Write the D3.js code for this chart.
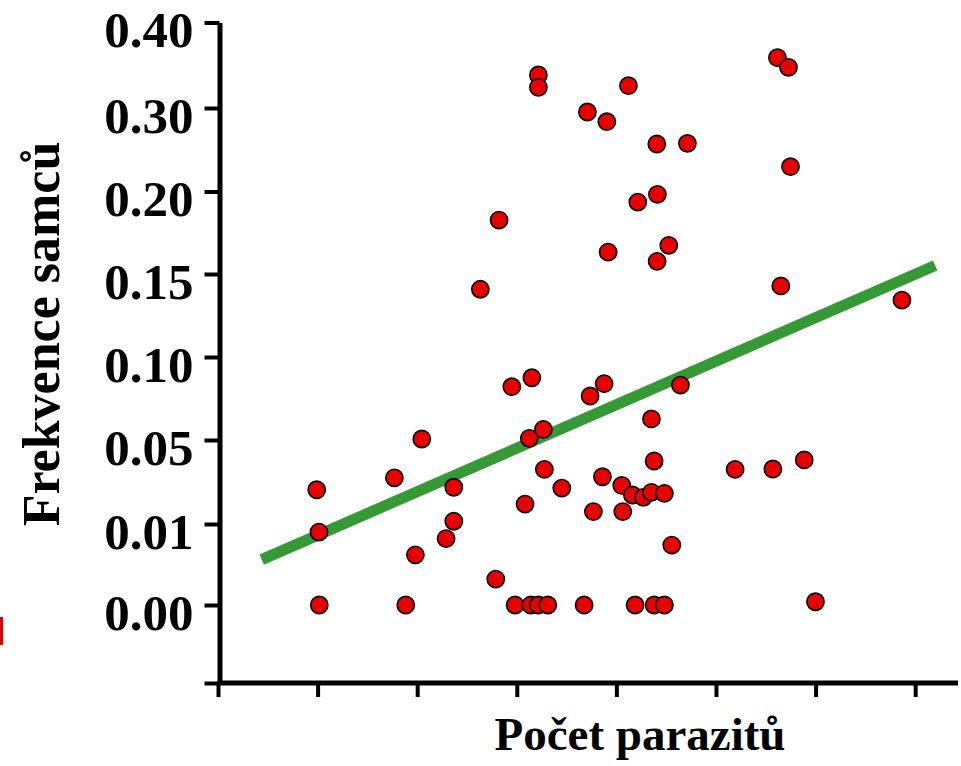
<!DOCTYPE html>
<html>
<head>
<meta charset="utf-8">
<script src="https://cdn.jsdelivr.net/npm/d3@7"></script>
<style>
  html, body { margin: 0; padding: 0; background: #fff; }
  svg { display: block; }
  text { font-family: "Liberation Serif", "Times New Roman", serif; font-weight: bold; fill: #000; }
</style>
</head>
<body>
<svg id="chart" width="961" height="766"></svg>
<script>
// ---- data ----
const parasites = [9.91,10.14,10.17,17.71,18.85,19.82,20.46,22.90,23.67,23.67,26.34,27.89,28.22,29.50,29.83,30.83,31.26,31.51,31.41,32.17,32.17,32.17,32.67,32.77,33.11,34.52,36.76,37.09,37.36,37.69,38.60,38.77,39.04,39.17,40.54,40.64,41.21,41.61,41.88,42.15,42.71,43.52,43.52,43.79,43.79,44.06,44.12,44.09,44.82,44.82,45.26,45.56,46.43,47.13,51.92,55.71,56.17,56.51,57.28,57.48,58.86,59.99,68.67];
const maleFreq = [0.0263,0.0090,0.0,0.0320,0.0,0.0062,0.0506,0.0082,0.0275,0.0113,0.1408,0.0032,0.1827,0.0821,0.0,0.0195,0.0510,0.0875,0.0,0.3386,0.3242,0.0,0.0564,0.0360,0.0,0.0271,0.0,0.2952,0.0765,0.0159,0.0325,0.0839,0.2836,0.1633,0.0284,0.0159,0.3261,0.0238,0.0,0.1936,0.0227,0.0251,0.0627,0.0400,0.0,0.2569,0.1983,0.1577,0.0246,0.0,0.1674,0.0074,0.0831,0.2577,0.0360,0.0362,0.3588,0.1428,0.3476,0.2297,0.0405,0.0004,0.1343];
const fitX = [4.39, 72.01];
const fitY = [0.0056, 0.1552];
const yTicks = [-0.01, 0.00, 0.01, 0.05, 0.10, 0.15, 0.20, 0.30, 0.40];
const yTickLabels = ["", "0.00", "0.01", "0.05", "0.10", "0.15", "0.20", "0.30", "0.40"];
const xTicks = [0, 10, 20, 30, 40, 50, 60, 70];
const xDomain = [0, 74.3];
const xTitle = "Počet parazitů";
const yTitle = "Frekvence samců";

// ---- layout ----
const svg = d3.select("#chart");
const axisX0 = 219.5;
const yPix = [683, 605, 524, 440, 357, 274, 191.5, 108, 22.5];
const y = d3.scaleLinear().domain(yTicks).range(yPix);
const x = d3.scaleLinear().domain(xDomain).range([218, 958]);

// stray red mark at the left edge
svg.append("rect").attr("x", 0).attr("y", 617).attr("width", 3).attr("height", 28).attr("fill", "#e00000");

// y axis
const yAxis = d3.axisLeft(y).tickValues(yTicks)
  .tickFormat((d, i) => yTickLabels[i]).tickSize(15).tickSizeOuter(0).tickPadding(11);
const gy = svg.append("g").attr("transform", `translate(${axisX0},0)`).call(yAxis);
gy.select(".domain").attr("stroke", "#000").attr("stroke-width", 5);
gy.selectAll(".tick line").attr("stroke", "#000").attr("stroke-width", 4);
gy.selectAll(".tick text").attr("font-size", 51).attr("dy", "0.48em")
  .style("font-family", "'Liberation Serif', serif").style("font-weight", "bold");

// x axis
const xAxis = d3.axisBottom(x).tickValues(xTicks).tickFormat("").tickSize(14).tickSizeOuter(0);
const gx = svg.append("g").attr("transform", `translate(0,${yPix[0]})`).call(xAxis);
gx.select(".domain").attr("stroke", "#000").attr("stroke-width", 5)
  .attr("d", `M${axisX0 - 2},0H958`);
gx.selectAll(".tick line").attr("stroke", "#000").attr("stroke-width", 4);

// regression line
const fit = fitX.map((v, i) => [v, fitY[i]]);
svg.append("path").datum(fit)
  .attr("d", d3.line().x(d => x(d[0])).y(d => y(d[1])))
  .attr("stroke", "#359a35").attr("stroke-width", 11).attr("fill", "none");

// points
svg.append("g").selectAll("circle").data(parasites.map((v, i) => [v, maleFreq[i]]))
  .join("circle")
  .attr("cx", d => x(d[0])).attr("cy", d => y(d[1])).attr("r", 8.6)
  .attr("fill", "#e60000").attr("stroke", "#000").attr("stroke-width", 1.6);

// titles
svg.append("text").attr("x", 640).attr("y", 750).attr("text-anchor", "middle")
  .attr("font-size", 47).text(xTitle);
svg.append("text").attr("transform", "translate(59,334) rotate(-90)").attr("text-anchor", "middle")
  .attr("font-size", 52).text(yTitle);
</script>
</body>
</html>
